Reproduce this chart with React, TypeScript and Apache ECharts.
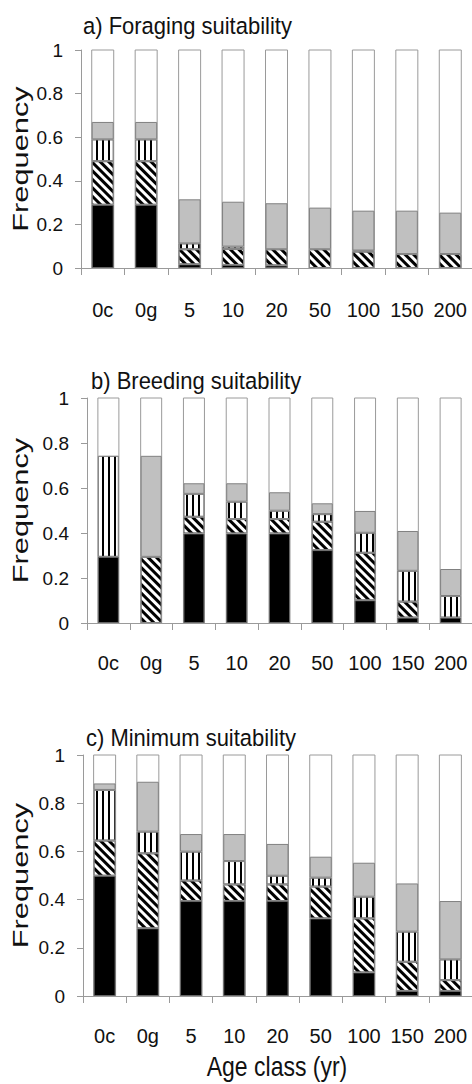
import React, { useEffect, useRef } from 'react';
import * as echarts from 'echarts';

const categories = ['0c', '0g', '5', '10', '20', '50', '100', '150', '200'];
const yMin = 0;
const yMax = 1;
const yStep = 0.2;

// a) Foraging suitability (segment heights, bottom to top)
const foragingBlack = [0.29, 0.29, 0.017, 0.014, 0.012, 0, 0, 0, 0];
const foragingDiag = [0.2, 0.2, 0.069, 0.073, 0.074, 0.086, 0.075, 0.064, 0.064];
const foragingVert = [0.1, 0.1, 0.027, 0.011, 0, 0, 0.005, 0, 0];
const foragingGray = [0.08, 0.08, 0.202, 0.206, 0.211, 0.191, 0.183, 0.199, 0.19];

// b) Breeding suitability
const breedingBlack = [0.294, 0, 0.398, 0.398, 0.398, 0.324, 0.101, 0.024, 0.024];
const breedingDiag = [0, 0.294, 0.074, 0.064, 0.064, 0.126, 0.211, 0.071, 0];
const breedingVert = [0.449, 0, 0.102, 0.077, 0.037, 0.034, 0.089, 0.137, 0.096];
const breedingGray = [0, 0.449, 0.047, 0.082, 0.082, 0.048, 0.097, 0.177, 0.12];

// c) Minimum suitability
const minimumBlack = [0.499, 0.281, 0.394, 0.394, 0.394, 0.322, 0.098, 0.021, 0.021];
const minimumDiag = [0.146, 0.311, 0.085, 0.069, 0.069, 0.132, 0.224, 0.121, 0.045];
const minimumVert = [0.21, 0.09, 0.12, 0.097, 0.036, 0.037, 0.09, 0.125, 0.086];
const minimumGray = [0.027, 0.207, 0.073, 0.112, 0.132, 0.087, 0.141, 0.2, 0.242];

const panelTitles = ['a) Foraging suitability', 'b) Breeding suitability', 'c) Minimum suitability'];
const yName = 'Frequency';
const xName = 'Age class (yr)';

const grids = [
  { left: 81, top: 50, width: 391, height: 218 },
  { left: 87, top: 398, width: 388, height: 225 },
  { left: 83, top: 755, width: 390, height: 241 },
];
const barWidths = [22, 21, 22];
const titlePos = [
  [83, 25.5],
  [91, 381],
  [86, 738],
];

const sans = "'Liberation Sans', Arial, sans-serif";

const diagDecal = {
  symbol: 'rect',
  symbolSize: 1,
  color: '#000',
  dashArrayX: [1, 0],
  dashArrayY: [3, 3],
  rotation: Math.PI / 4,
};
const vertDecal = {
  symbol: 'rect',
  symbolSize: 1,
  color: '#000',
  dashArrayX: [2, 4],
  dashArrayY: [1, 0],
  rotation: 0,
};

const clean = (arr: number[]) => arr.map((v) => (v === 0 ? '-' : v));

function panelSeries(idx: number, black: number[], diag: number[], vert: number[], gray: number[]) {
  const base = {
    type: 'bar',
    stack: 'p' + idx,
    xAxisIndex: idx,
    yAxisIndex: idx,
    barWidth: barWidths[idx],
    silent: true,
  };
  return [
    {
      ...base,
      data: clean(black),
      showBackground: true,
      backgroundStyle: { color: '#fff', borderColor: '#9a9a9a', borderWidth: 1 },
      itemStyle: { color: '#000', borderColor: '#666', borderWidth: 1 },
    },
    {
      ...base,
      data: clean(diag),
      itemStyle: { color: '#fff', borderColor: '#888', borderWidth: 1, decal: diagDecal },
    },
    {
      ...base,
      data: clean(vert),
      itemStyle: { color: '#fff', borderColor: '#888', borderWidth: 1, decal: vertDecal },
    },
    {
      ...base,
      data: clean(gray),
      itemStyle: { color: '#c0c0c0', borderColor: '#808080', borderWidth: 1 },
    },
  ];
}

export default function App() {
  const ref = useRef<HTMLDivElement>(null);
  useEffect(() => {
    document.body.style.margin = '0';
    if (!ref.current) return;
    const chart = echarts.init(ref.current, undefined, { renderer: 'svg' });

    const xAxes = grids.map((_, i) => ({
      type: 'category',
      gridIndex: i,
      data: categories,
      axisLine: { show: true, lineStyle: { color: '#9a9a9a', width: 1 } },
      axisTick: { show: true, interval: 0, length: 7, alignWithLabel: false, lineStyle: { color: '#9a9a9a' } },
      axisLabel: { interval: 0, margin: i === 0 ? 32 : 30, color: '#111', fontFamily: sans, fontSize: 20 },
      splitLine: { show: false },
    }));
    const yAxes = grids.map((_, i) => ({
      type: 'value',
      gridIndex: i,
      min: yMin,
      max: yMax,
      interval: yStep,
      axisLine: { show: true, lineStyle: { color: '#9a9a9a', width: 1 } },
      axisTick: { show: true, length: 6, lineStyle: { color: '#9a9a9a' } },
      axisLabel: { margin: 18, color: '#111', fontFamily: sans, fontSize: 19 },
      splitLine: { show: false },
    }));

    const graphic: any[] = [];
    panelTitles.forEach((t, i) => {
      graphic.push({
        type: 'text',
        x: titlePos[i][0],
        y: titlePos[i][1],
        scaleY: 1.08,
        style: {
          text: t,
          font: '22px ' + sans,
          fill: '#111',
          align: 'left',
          textAlign: 'left',
          verticalAlign: 'middle',
          textVerticalAlign: 'middle',
        },
      });
      const g = grids[i];
      graphic.push({
        type: 'text',
        x: 21,
        y: g.top + g.height / 2,
        rotation: Math.PI / 2,
        scaleX: 1.4,
        style: {
          text: yName,
          font: '22px ' + sans,
          fill: '#111',
          align: 'center',
          textAlign: 'center',
          verticalAlign: 'middle',
          textVerticalAlign: 'middle',
        },
      });
    });
    graphic.push({
      type: 'text',
      x: 277,
      y: 1066,
      scaleY: 1.18,
      style: {
        text: xName,
        font: '23px ' + sans,
        fill: '#111',
        align: 'center',
        textAlign: 'center',
        verticalAlign: 'middle',
        textVerticalAlign: 'middle',
      },
    });

    chart.setOption({
      animation: false,
      backgroundColor: '#fff',
      grid: grids,
      xAxis: xAxes,
      yAxis: yAxes,
      graphic,
      series: [
        ...panelSeries(0, foragingBlack, foragingDiag, foragingVert, foragingGray),
        ...panelSeries(1, breedingBlack, breedingDiag, breedingVert, breedingGray),
        ...panelSeries(2, minimumBlack, minimumDiag, minimumVert, minimumGray),
      ],
    });
    return () => chart.dispose();
  }, []);
  return <div ref={ref} style={{ width: 472, height: 1084 }} />;
}
